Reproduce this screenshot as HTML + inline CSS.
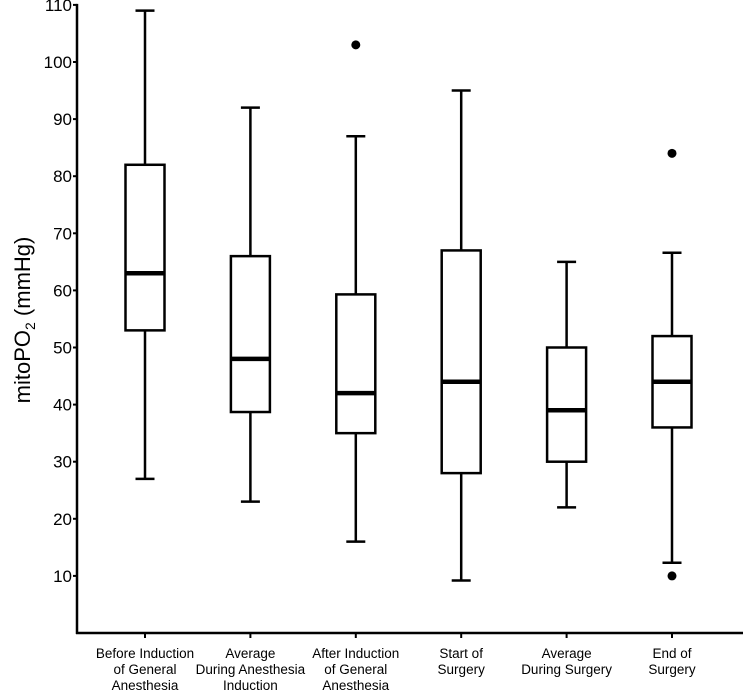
<!DOCTYPE html>
<html><head><meta charset="utf-8"><style>
html,body{margin:0;padding:0;background:#fff;}
svg text{font-family:"Liberation Sans",Arial,sans-serif;fill:#000;}
</style></head><body>
<svg id="chart" width="743" height="692" xmlns="http://www.w3.org/2000/svg">
<g id="axes"></g><g id="boxes"></g>
</svg>
<script>
const categories = [["Before Induction","of General","Anesthesia"],["Average","During Anesthesia","Induction"],["After Induction","of General","Anesthesia"],["Start of","Surgery"],["Average","During Surgery"],["End of","Surgery"]];
const whiskerLow = [27,23,16,9.2,22,12.3];
const q1 = [53,38.7,35,28,30,36];
const medians = [63,48,42,44,39,44];
const q3 = [82,66,59.3,67,50,52];
const whiskerHigh = [109,92,87,95,65,66.6];
const outliers = [[],[],[103],[],[],[84,10]];
const yTicks = [10,20,30,40,50,60,70,80,90,100,110];

const NS="http://www.w3.org/2000/svg";
const x0=77, yBase=633, ppu=5.71, xFirst=145, xStep=105.4, bw=39, cap=19;
const y = v => yBase - v*ppu;
const x = i => xFirst + i*xStep;
function mk(tag, attrs, parent){const e=document.createElementNS(NS,tag);for(const k in attrs)e.setAttribute(k,attrs[k]);parent.appendChild(e);return e;}
const axes=document.getElementById('axes'), boxes=document.getElementById('boxes');

let yl=mk('line',{x1:x0,y1:y(110)-1,x2:x0,y2:yBase+1,stroke:'#000','stroke-width':2.5},axes);


let xl=mk('line',{x1:x0-1,y1:yBase,x2:743,y2:yBase,stroke:'#000','stroke-width':2.5},axes);


yTicks.forEach(t=>{
  let tk=mk('line',{x1:x0-4,y1:y(t),x2:x0,y2:y(t),stroke:'#000','stroke-width':2},axes);
  
  
  let tl=mk('text',{x:x0-5,y:y(t)+6,'text-anchor':'end','font-size':17},axes);
  tl.textContent=t;
  
  
});
let title=mk('text',{transform:'translate(30,320) rotate(-90)','text-anchor':'middle','font-size':22},axes);
title.innerHTML='mitoPO<tspan font-size="14" dy="5">2</tspan><tspan dy="-5"> (mmHg)</tspan>';



categories.forEach((lines,i)=>{
  const cx=x(i);
  let tk=mk('line',{x1:cx,y1:yBase,x2:cx,y2:yBase+5,stroke:'#000','stroke-width':2},axes);
  
  
  let lab=mk('text',{'text-anchor':'middle','font-size':13.5},axes);
  
  
  lines.forEach((s,j)=>{let ts=mk('tspan',{x:cx,y:658+j*16},lab);ts.textContent=s;});

  const g=mk('g',{},boxes);
  
  
  const st={stroke:'#000','stroke-width':2.5,fill:'none'};
  mk('line',Object.assign({x1:cx,y1:y(whiskerHigh[i]),x2:cx,y2:y(q3[i])},st),g);
  mk('line',Object.assign({x1:cx,y1:y(q1[i]),x2:cx,y2:y(whiskerLow[i])},st),g);
  mk('line',Object.assign({x1:cx-cap/2,y1:y(whiskerHigh[i]),x2:cx+cap/2,y2:y(whiskerHigh[i])},st),g);
  mk('line',Object.assign({x1:cx-cap/2,y1:y(whiskerLow[i]),x2:cx+cap/2,y2:y(whiskerLow[i])},st),g);
  let r=mk('rect',Object.assign({x:cx-bw/2,y:y(q3[i]),width:bw,height:y(q1[i])-y(q3[i])},st),g);
  r.setAttribute('fill','#fff');
  
  let m=mk('line',{x1:cx-bw/2,y1:y(medians[i]),x2:cx+bw/2,y2:y(medians[i]),stroke:'#000','stroke-width':4.5},g);
  
  outliers[i].forEach(o=>{
    let c=mk('circle',{cx:cx,cy:y(o),r:4.5,fill:'#000'},g);
    
    
  });
});
</script>
</body></html>
